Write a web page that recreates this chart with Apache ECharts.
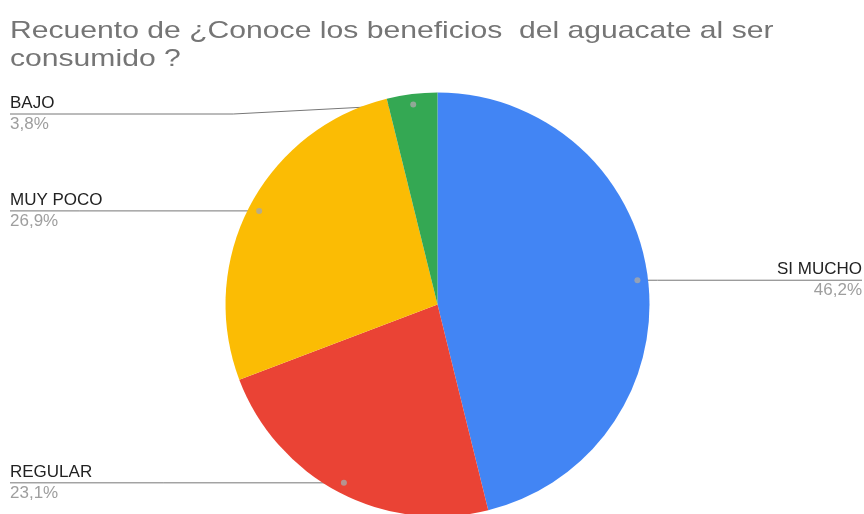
<!DOCTYPE html>
<html><head><meta charset="utf-8">
<script src="https://cdn.jsdelivr.net/npm/echarts@6/dist/echarts.min.js"></script>
<style>html,body{margin:0;padding:0;background:#fff}#c{width:864px;height:514px}</style>
</head><body><div id="c"></div>
<script>
const titleText = 'Recuento de ¿Conoce los beneficios  del aguacate al ser\nconsumido ?';
const categories = ['SI MUCHO', 'REGULAR', 'MUY POCO', 'BAJO'];
const values = [12, 6, 7, 1];
const percentLabels = ['46,2%', '23,1%', '26,9%', '3,8%'];
const colors = ['#4285F4', '#EA4335', '#FBBC04', '#34A853'];

const W = 864, H = 514;
const CX = 437.5, CY = 304.5, R = 212;
const DOT_FRAC = 0.95;
const EDGE = 10, MIN_LINE_Y = 114;

const total = values.reduce((a, b) => a + b, 0);
// dot positions derived from data angles (start at top, clockwise)
const dots = [];
let acc = 0;
values.forEach((v) => {
  const mid = 90 - (acc + v / 2) / total * 360;
  acc += v;
  const a = mid * Math.PI / 180;
  dots.push([CX + R * DOT_FRAC * Math.cos(a), CY - R * DOT_FRAC * Math.sin(a)]);
});

const chart = echarts.init(document.getElementById('c'), null, {renderer: 'canvas'});
chart.setOption({
  animation: false,
  color: colors,
  graphic: [{
    type: 'text',
    x: 10, y: 17,
    scaleX: 1.255,
    style: {
      text: titleText,
      font: '24px "Liberation Sans", Arial, sans-serif',
      fill: '#757575',
      lineHeight: 28,
      verticalAlign: 'top'
    }
  }],
  grid: {left: 0, right: 0, top: 0, bottom: 0},
  xAxis: {type: 'value', min: 0, max: W, show: false},
  yAxis: {type: 'value', min: 0, max: H, inverse: true, show: false},
  series: [{
    type: 'pie',
    center: [CX, CY],
    radius: R,
    startAngle: 90,
    clockwise: true,
    avoidLabelOverlap: false,
    itemStyle: {borderWidth: 0},
    data: categories.map((c, i) => ({name: c, value: values[i]})),
    label: {
      show: true,
      position: 'outside',
      formatter: (p) => '{n|' + p.name + '}\n{p|' + percentLabels[p.dataIndex] + '}',
      rich: {
        n: {fontFamily: 'Liberation Sans, Arial', fontSize: 17, color: '#222', lineHeight: 21},
        p: {fontFamily: 'Liberation Sans, Arial', fontSize: 17, color: '#9e9e9e', lineHeight: 21}
      }
    },
    labelLine: {show: true, lineStyle: {color: '#777', width: 1}},
    labelLayout: function (params) {
      const i = params.dataIndex;
      const d = dots[i];
      const isLeft = d[0] < CX;
      const lineY = Math.max(d[1], MIN_LINE_Y);
      const edgeX = isLeft ? EDGE : W - 2;
      const bendX = isLeft ? d[0] - 180 : d[0] + 20;
      return {
        x: edgeX, y: lineY,
        align: isLeft ? 'left' : 'right',
        verticalAlign: 'middle',
        labelLinePoints: [[d[0], d[1]], [bendX, lineY], [edgeX, lineY]]
      };
    }
  }, {
    type: 'scatter',
    z: 5,
    symbolSize: 6,
    itemStyle: {color: '#a8a8a8'},
    silent: true,
    data: dots
  }]
});
</script></body></html>
